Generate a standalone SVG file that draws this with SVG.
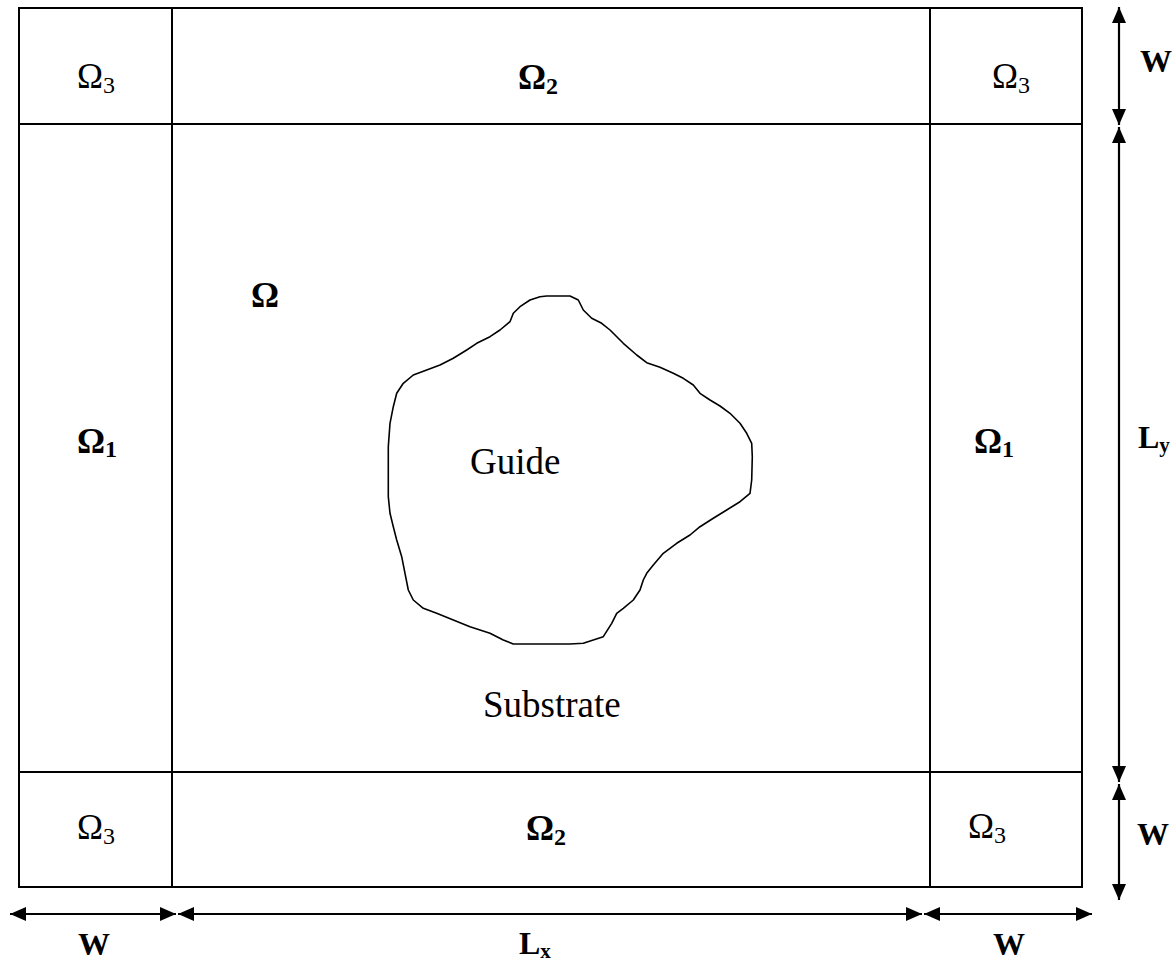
<svg xmlns="http://www.w3.org/2000/svg" width="1176" height="962" viewBox="0 0 1176 962">
<defs>
<style>
.ln{fill:none;stroke:#000;stroke-width:2}
.ar{fill:none;stroke:#000;stroke-width:2.2;marker-start:url(#ah);marker-end:url(#ah)}
.om{font-family:"Liberation Serif","Times New Roman",serif;font-size:35px;fill:#000}
.b{font-weight:bold}
.sub{font-size:24px}
.lbl{font-family:"Liberation Serif","Times New Roman",serif;font-size:32px;font-weight:bold;fill:#000}
.lsub{font-size:21px}
.txt{font-family:"Liberation Serif","Times New Roman",serif;font-size:37px;fill:#000}
</style>
<marker id="ah" viewBox="0 0 16 14" refX="16" refY="7" markerWidth="16" markerHeight="14" markerUnits="userSpaceOnUse" orient="auto-start-reverse">
<path d="M0,0 L16,7 L0,14 Z" fill="#000"/>
</marker>
</defs>
<rect width="1176" height="962" fill="#fff"/>

<g id="frame">
<rect class="ln" x="19" y="8" width="1063" height="879"/>
<line class="ln" x1="172" y1="8" x2="172" y2="887"/>
<line class="ln" x1="930" y1="8" x2="930" y2="887"/>
<line class="ln" x1="19" y1="124" x2="1082" y2="124"/>
<line class="ln" x1="19" y1="772" x2="1082" y2="772"/>
</g>

<g id="omega3-tl"><text class="om" x="77" y="88">Ω<tspan class="sub" dy="5">3</tspan></text></g>
<g id="omega2-top"><text class="om b" x="518" y="89">Ω<tspan class="sub" dy="5">2</tspan></text></g>
<g id="omega3-tr"><text class="om" x="992" y="88">Ω<tspan class="sub" dy="5">3</tspan></text></g>
<g id="omega1-left"><text class="om b" x="77" y="453">Ω<tspan class="sub" dy="4">1</tspan></text></g>
<g id="omega"><text class="om b" x="251" y="307">Ω</text></g>
<g id="omega1-right"><text class="om b" x="974" y="453">Ω<tspan class="sub" dy="4">1</tspan></text></g>
<g id="omega3-bl"><text class="om" x="77" y="839">Ω<tspan class="sub" dy="5">3</tspan></text></g>
<g id="omega2-bottom"><text class="om b" x="526" y="840">Ω<tspan class="sub" dy="5">2</tspan></text></g>
<g id="omega3-br"><text class="om" x="968" y="838">Ω<tspan class="sub" dy="5">3</tspan></text></g>

<g id="guide">
<path class="ln" style="stroke-width:1.6;stroke-linejoin:round" d="M546.7,296 L570,296 L578.3,300 L583.3,310 L591.7,318.3 L601.7,323.3 L610,330 L623.3,343.3 L636.7,355 L646.7,362.7 L660,367.3 L673.3,373.3 L683.3,378.3 L693.3,385 L700,393.3 L710,400 L720,406 L730,413.3 L740,423.3 L746.7,433.3 L751.7,443.3 L752.3,456.7 L751.7,480 L750,493.3 L740,501.7 L726.7,510 L713.3,518.3 L700,526.7 L690,535 L676.7,543.3 L663.3,553.3 L653.3,565 L646.7,573.3 L643.3,580 L640,590 L633.3,600 L623.3,608.3 L616.7,613.3 L611.7,623.3 L603.3,636.7 L583.3,643.3 L570,644 L513.3,644 L503.3,640 L490,633.3 L470,626.7 L453.3,620 L436.7,613.3 L423.3,608.3 L413.3,600 L408.3,590 L405,573.3 L401.7,556.7 L396.7,540 L393.3,526.7 L390,513.3 L388.3,496.7 L388.3,446.7 L390,423.3 L393.3,406.7 L396.7,393.3 L403.3,383.3 L413.3,375 L426.7,370 L440,365 L453.3,358.3 L466.7,350 L476.7,343.3 L490,336.7 L500,330 L510,321.7 L513.3,313.3 L520,306.7 L530,300 L540,296.7 Z"/>
<text class="txt" x="470" y="474">Guide</text>
</g>
<g id="substrate"><text class="txt" x="483" y="717">Substrate</text></g>

<g id="connectors">
<line class="ar" x1="10" y1="914" x2="176" y2="914"/>
<line class="ar" x1="178" y1="914" x2="922" y2="914"/>
<line class="ar" x1="924" y1="914" x2="1092" y2="914"/>
<line class="ar" x1="1119" y1="7" x2="1119" y2="125"/>
<line class="ar" x1="1119" y1="127" x2="1119" y2="782"/>
<line class="ar" x1="1119" y1="784" x2="1119" y2="900"/>
</g>

<g id="dim-labels">
<text class="lbl" x="1140" y="72">W</text>
<text class="lbl" x="1138" y="448">L<tspan class="lsub" dy="4">y</tspan></text>
<text class="lbl" x="1137" y="845">W</text>
<text class="lbl" x="78" y="955">W</text>
<text class="lbl" x="519" y="954">L<tspan class="lsub" dy="4">x</tspan></text>
<text class="lbl" x="993" y="955">W</text>
</g>
</svg>
